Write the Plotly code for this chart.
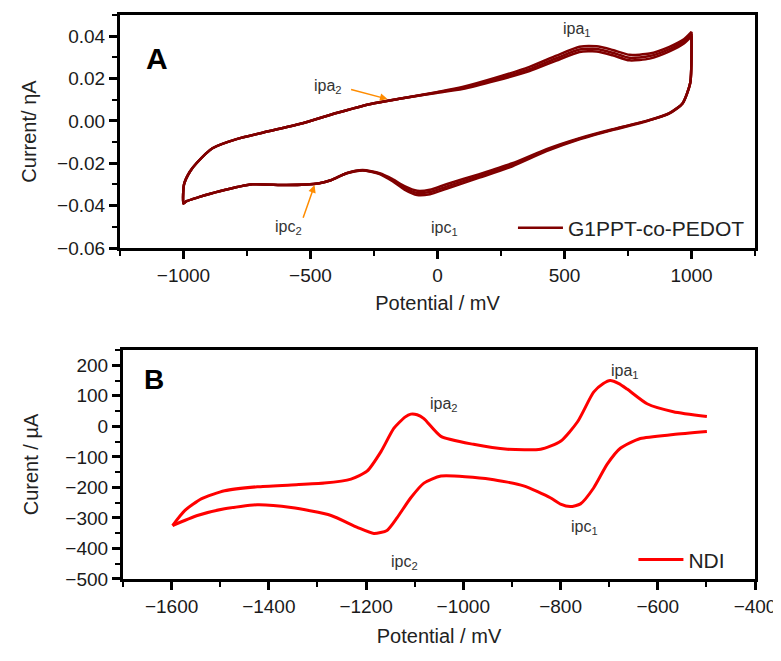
import plotly.graph_objects as go

# Panel A: G1PPT-co-PEDOT, three CV cycles (potential mV, current)
a_fwd_x = [-1000, -998, -975, -949, -886, -791, -661, -531, -398, -268, -138, -4, 98, 232, 362,
           468, 559, 626, 689, 756, 835, 913, 970, 1000]
a_fwd_y1 = [-0.039, -0.030, -0.024, -0.020, -0.0129, -0.0086, -0.0048, -0.0011, 0.0037, 0.0079,
            0.0107, 0.0136, 0.0160, 0.0205, 0.0255, 0.0308, 0.0350, 0.0352, 0.0335, 0.0312,
            0.0318, 0.0350, 0.0385, 0.0420]
a_fwd_y2 = [-0.039, -0.030, -0.024, -0.020, -0.0129, -0.0086, -0.0048, -0.0011, 0.0037, 0.0079,
            0.0107, 0.0134, 0.0155, 0.0197, 0.0244, 0.0296, 0.0337, 0.0340, 0.0322, 0.0298,
            0.0306, 0.0339, 0.0375, 0.0410]
a_fwd_y3 = [-0.039, -0.030, -0.024, -0.020, -0.0129, -0.0086, -0.0048, -0.0011, 0.0037, 0.0079,
            0.0107, 0.0132, 0.0150, 0.0190, 0.0235, 0.0285, 0.0325, 0.0328, 0.0310, 0.0286,
            0.0294, 0.0328, 0.0365, 0.0400]
a_rev_x = [1000, 995, 965, 913, 823, 689, 559, 429, 295, 165, 35, -30, -80, -130, -177, -228,
           -295, -358, -420, -465, -594, -728, -858, -940, -988, -1000]
a_rev_y1 = [0.042, 0.018, 0.0084, 0.0037, 0.0, -0.0039, -0.0081, -0.0133, -0.0200, -0.0251,
            -0.0299, -0.0325, -0.0330, -0.0308, -0.0275, -0.0247, -0.0232, -0.0247, -0.0280,
            -0.0294, -0.0303, -0.0299, -0.0332, -0.0360, -0.0379, -0.039]
a_rev_y2 = [0.041, 0.018, 0.0084, 0.0037, 0.0, -0.0041, -0.0084, -0.0138, -0.0207, -0.0260,
            -0.0310, -0.0336, -0.0340, -0.0316, -0.0280, -0.0249, -0.0233, -0.0247, -0.0280,
            -0.0294, -0.0303, -0.0299, -0.0332, -0.0360, -0.0379, -0.039]
a_rev_y3 = [0.040, 0.018, 0.0082, 0.0035, -0.0002, -0.0043, -0.0087, -0.0143, -0.0214, -0.0268,
            -0.0320, -0.0346, -0.0350, -0.0324, -0.0285, -0.0251, -0.0234, -0.0247, -0.0280,
            -0.0294, -0.0303, -0.0299, -0.0332, -0.0360, -0.0379, -0.039]

# Panel B: NDI (potential mV, current uA)
b_fwd_x = [-1598, -1573, -1538, -1491, -1424, -1354, -1286, -1231, -1198, -1169, -1143, -1120,
           -1108, -1095, -1081, -1046, -979, -909, -841, -800, -765, -732, -712, -698, -680,
           -663, -622, -568, -499]
b_fwd_y = [-325, -276, -237, -211, -198, -192, -186, -173, -147, -82, -7, 30, 40, 38, 25, -33,
           -59, -75, -75, -49, 15, 112, 140, 150, 140, 122, 74, 48, 32]
b_rev_x = [-499, -568, -636, -677, -704, -732, -759, -780, -800, -821, -876, -944, -1046, -1081,
           -1108, -1136, -1157, -1184, -1218, -1272, -1354, -1424, -1491, -1547, -1598]
b_rev_y = [-17, -27, -40, -72, -124, -202, -254, -263, -255, -234, -195, -173, -163, -186, -234,
           -299, -341, -351, -331, -292, -266, -257, -270, -292, -325]

FONT = "Liberation Sans, Arial, sans-serif"
DARKRED = "#800000"
ORANGE = "#FF8C00"

fig = go.Figure()
cycles = [(a_fwd_y1, a_rev_y1), (a_fwd_y2, a_rev_y2), (a_fwd_y3, a_rev_y3)]
for i, (fy, ry) in enumerate(cycles):
    fig.add_trace(go.Scatter(x=a_fwd_x + a_rev_x, y=fy + ry, mode="lines", name="G1PPT-co-PEDOT",
                             line=dict(color=DARKRED, width=2.5, shape="spline", smoothing=0.6),
                             legendgroup="a", showlegend=(i == 0), legend="legend",
                             xaxis="x", yaxis="y"))
# forward and reverse scans are not joined at -500 mV
fig.add_trace(go.Scatter(x=b_fwd_x + [None] + b_rev_x, y=b_fwd_y + [None] + b_rev_y, mode="lines",
                         name="NDI", line=dict(color="#FF0000", width=3, shape="spline", smoothing=0.6),
                         legend="legend2", xaxis="x2", yaxis="y2"))

axis_common = dict(showline=True, linewidth=3, linecolor="black", mirror=True, ticks="outside",
                   ticklen=8, tickwidth=2.5, tickcolor="black", showgrid=False, zeroline=False,
                   automargin=False,
                   tickfont=dict(family=FONT, size=19, color="#1a1a1a"),
                   title_font=dict(family=FONT, size=20, color="#222"))
minor_common = dict(ticklen=5, tickwidth=2, ticks="outside", tickcolor="black")

# the page body adds an 8px offset, so domains are placed 8px up/left
fig.update_layout(
    width=781, height=661, template="plotly_white", margin=dict(l=0, r=0, t=0, b=0),
    paper_bgcolor="white", plot_bgcolor="white", font=dict(family=FONT, color="#222"),
    xaxis=dict(axis_common, domain=[0.1434, 0.9565], range=[-1250, 1250], dtick=500,
               minor=dict(minor_common, dtick=250), title_text="Potential / mV",
               title_standoff=12, anchor="y"),
    yaxis=dict(axis_common, domain=[0.6369, 0.9894], range=[-0.06, 0.05], dtick=0.02,
               tickformat=".2f", minor=dict(minor_common, dtick=0.01),
               title_text="Current/ ηA", title_standoff=16, anchor="x"),
    xaxis2=dict(axis_common, domain=[0.1472, 0.9565], range=[-1700, -400], dtick=200,
                minor=dict(minor_common, dtick=100), title_text="Potential / mV",
                title_standoff=14, anchor="y2"),
    yaxis2=dict(axis_common, domain=[0.1362, 0.4826], range=[-500, 250], dtick=100,
                minor=dict(minor_common, dtick=50), title_text="Curent / µA",
                title_standoff=22, anchor="x2"),
    legend=dict(x=0.950, y=0.667, xanchor="right", yanchor="middle", bgcolor="rgba(0,0,0,0)",
                font=dict(family=FONT, size=21, color="#222"), itemwidth=45),
    legend2=dict(x=0.925, y=0.165, xanchor="right", yanchor="middle", bgcolor="rgba(0,0,0,0)",
                 font=dict(family=FONT, size=21, color="#222"), itemwidth=45),
)

ann_font = dict(family=FONT, size=16, color="#333")
# panel A labels
fig.add_annotation(x=551, y=0.0433, xref="x", yref="y", text="ipa<sub>1</sub>", showarrow=False, font=ann_font)
fig.add_annotation(x=-433, y=0.0164, xref="x", yref="y", text="ipa<sub>2</sub>", showarrow=False, font=ann_font)
fig.add_annotation(x=28, y=-0.0506, xref="x", yref="y", text="ipc<sub>1</sub>", showarrow=False, font=ann_font)
fig.add_annotation(x=-587, y=-0.0502, xref="x", yref="y", text="ipc<sub>2</sub>", showarrow=False, font=ann_font)
fig.add_annotation(x=-197, y=0.0103, ax=-346, ay=0.0150, xref="x", yref="y", axref="x", ayref="y",
                   text="", showarrow=True, arrowhead=2, arrowsize=1, arrowwidth=1.5, arrowcolor=ORANGE)
fig.add_annotation(x=-484, y=-0.0303, ax=-531, ay=-0.0464, xref="x", yref="y", axref="x", ayref="y",
                   text="", showarrow=True, arrowhead=2, arrowsize=1, arrowwidth=1.5, arrowcolor=ORANGE)
fig.add_annotation(x=0.1741, y=0.9516, xref="paper", yref="paper", text="<b>A</b>", showarrow=False,
                   font=dict(family=FONT, size=30, color="black"))
# panel B labels
fig.add_annotation(x=-667, y=180, xref="x2", yref="y2", text="ipa<sub>1</sub>", showarrow=False, font=ann_font)
fig.add_annotation(x=-1040, y=70, xref="x2", yref="y2", text="ipa<sub>2</sub>", showarrow=False, font=ann_font)
fig.add_annotation(x=-751, y=-331, xref="x2", yref="y2", text="ipc<sub>1</sub>", showarrow=False, font=ann_font)
fig.add_annotation(x=-1120, y=-445, xref="x2", yref="y2", text="ipc<sub>2</sub>", showarrow=False, font=ann_font)
fig.add_annotation(x=0.1716, y=0.4387, xref="paper", yref="paper", text="<b>B</b>", showarrow=False,
                   font=dict(family=FONT, size=28, color="black"))

fig.write_html("out.html")
